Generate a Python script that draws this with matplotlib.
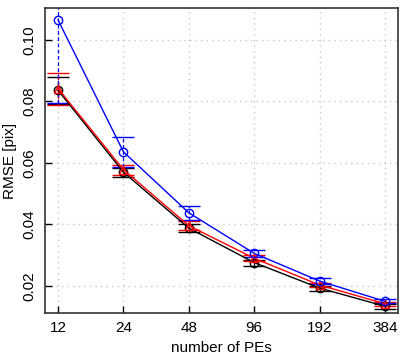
import numpy as np
import matplotlib
matplotlib.use('Agg')
from matplotlib import pyplot as plt

plt.rcParams['font.family'] = ['Liberation Sans', 'DejaVu Sans']

pes = [12, 24, 48, 96, 192, 384]
xlabels = ['12', '24', '48', '96', '192', '384']

# blue series
blue = [0.1065, 0.0636, 0.0438, 0.0306, 0.0216, 0.0150]
blue_err = [0.027, 0.0050, 0.0022, 0.0012, 0.0009, 0.0007]
# red series
red = [0.0842, 0.0578, 0.0396, 0.0290, 0.0203, 0.0142]
red_err = [0.0052, 0.0016, 0.0014, 0.0010, 0.0008, 0.0006]
# black series
black = [0.0836, 0.0570, 0.0388, 0.0276, 0.0193, 0.0134]
black_err = [0.0043, 0.0015, 0.0014, 0.0010, 0.0008, 0.0008]

fig = plt.figure(figsize=(4.07, 3.62), dpi=100)
ax = fig.add_axes([45/407, 49/362, 353/407, 305/362])

for y, e, c, m in [(black, black_err, 'black', 'o'),
                   (red, red_err, 'red', '^'),
                   (blue, blue_err, 'blue', 'o')]:
    eb = ax.errorbar(pes, y, yerr=e, color=c, lw=1.0, marker=m, ms=6,
                     mfc='none', mec=c, mew=1.0, capsize=8, capthick=1.0,
                     elinewidth=0.9)
    eb[2][0].set_linestyle((0, (3, 2)))

ax.set_xscale('log', base=2)
ax.set_xlim(12 * 2**(-13/65), 384 * 2**(13/65))
ax.set_ylim(0.0112, 0.1104)
ax.set_xticks(pes)
ax.set_xticklabels(xlabels)
ax.minorticks_off()
ax.set_yticks([0.02, 0.04, 0.06, 0.08, 0.10])
ax.set_yticklabels(['0.02', '0.04', '0.06', '0.08', '0.10'], rotation=90, va='center')
ax.tick_params(direction='in', length=5, labelsize=11, width=1, pad=6)
ax.grid(True, color='#c8c8c8', linestyle=(0, (1, 3)), lw=1)
for s in ax.spines.values():
    s.set_linewidth(1.2)
    s.set_color('#333333')
ax.set_xlabel('number of PEs', fontsize=11)
ax.set_ylabel('RMSE [pix]', fontsize=11)

fig.savefig('out.png', dpi=100)
